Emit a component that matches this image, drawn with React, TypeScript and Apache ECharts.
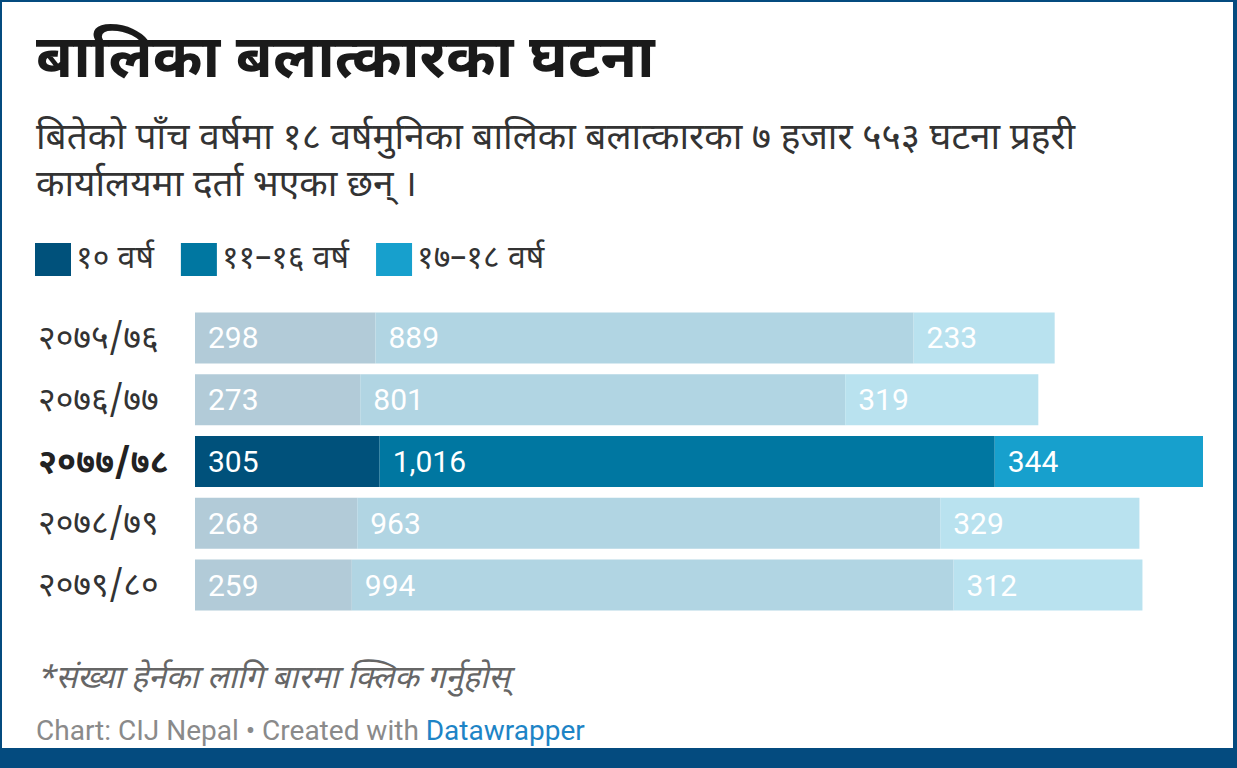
import React, { useEffect, useRef } from "react";
import * as echarts from "echarts";

const categories = ["२०७५/७६", "२०७६/७७", "२०७७/७८", "२०७८/७९", "२०७९/८०"];
const seriesNames = ["१० वर्ष", "११–१६ वर्ष", "१७–१८ वर्ष"];
const age10 = [298, 273, 305, 268, 259];
const age11to16 = [889, 801, 1016, 963, 994];
const age17to18 = [233, 319, 344, 329, 312];
const highlightIndex = 2;

const fullColors = ["#00517b", "#0077a1", "#17a0cd"];
const fadedColors = ["#b2cbd8", "#b1d5e3", "#b9e2ef"];

const DEV = "'Noto Sans Devanagari', 'Noto Sans', 'Lohit Devanagari', sans-serif";
const FRAME = "#044b7f";

export default function App() {
  const ref = useRef<HTMLDivElement>(null);
  useEffect(() => {
    document.body.style.margin = "0";
    const chart = echarts.init(ref.current!, null, { renderer: "svg" });
    const values = [age10, age11to16, age17to18];
    const fmt = (n: number) => n.toLocaleString("en-US");
    const series = values.map((arr, si) => ({
      name: seriesNames[si],
      type: "bar",
      stack: "total",
      barWidth: 51,
      itemStyle: { color: fullColors[si] },
      emphasis: { disabled: true },
      data: arr.map((v, i) => ({
        value: v,
        itemStyle: { color: i === highlightIndex ? fullColors[si] : fadedColors[si] },
      })),
      label: {
        show: true,
        position: "insideLeft",
        distance: 13,
        color: "#ffffff",
        fontFamily: "Roboto",
        fontSize: 30,
        formatter: (p: any) => fmt(p.value),
      },
    }));
    chart.setOption({
      animation: false,
      backgroundColor: "#ffffff",
      grid: { left: 195, right: 34, top: 307, height: 309, containLabel: false },
      xAxis: {
        type: "value",
        min: 0,
        max: 1665,
        show: false,
      },
      yAxis: {
        type: "category",
        inverse: true,
        data: categories,
        axisLine: { show: false },
        axisTick: { show: false },
        axisLabel: {
          align: "left",
          margin: 157,
          formatter: (v: string, i: number) => (i === highlightIndex ? `{b|${v}}` : `{n|${v}}`),
          rich: {
            n: { fontFamily: DEV, fontSize: 34, color: "#333333", padding: [6, 0, 0, 0] },
            b: { fontFamily: DEV, fontSize: 34, color: "#222222", fontWeight: "bold", padding: [6, 0, 0, 0] },
          },
        },
      },
      legend: {
        left: 35,
        top: 243,
        padding: 0,
        icon: "rect",
        itemWidth: 36,
        itemHeight: 33,
        itemGap: 27,
        selectedMode: false,
        textStyle: { fontFamily: DEV, fontSize: 32, color: "#333333" },
        data: seriesNames,
      },
      graphic: [
        {
          type: "text",
          left: 36,
          top: 32,
          style: { text: "बालिका बलात्कारका घटना", fontFamily: DEV, fontSize: 60, fontWeight: "bold", fill: "#1a1a1a" },
        },
        {
          type: "text",
          left: 36,
          top: 116,
          style: {
            text: "बितेको पाँच वर्षमा १८ वर्षमुनिका बालिका बलात्कारका ७ हजार ५५३ घटना प्रहरी\nकार्यालयमा दर्ता भएका छन् ।",
            fontFamily: DEV,
            fontSize: 37,
            lineHeight: 47,
            fill: "#333333",
          },
        },
        {
          type: "text",
          left: 36,
          top: 664,
          style: {
            text: "*संख्या हेर्नका लागि बारमा क्लिक गर्नुहोस्",
            fontFamily: DEV,
            fontSize: 32,
            fontStyle: "italic",
            fill: "#666666",
          },
        },
        {
          type: "text",
          left: 36,
          top: 716,
          style: {
            text: "{a|Chart: CIJ Nepal • Created with }{b|Datawrapper}",
            rich: {
              a: { fontFamily: "Roboto", fontSize: 28, fill: "#8a8a8a", color: "#8a8a8a" },
              b: { fontFamily: "Roboto", fontSize: 28, fill: "#1d84c6", color: "#1d84c6" },
            },
          },
        },
        { type: "rect", shape: { x: 0, y: 0, width: 1237, height: 2 }, style: { fill: FRAME } },
        { type: "rect", shape: { x: 0, y: 0, width: 2, height: 768 }, style: { fill: FRAME } },
        { type: "rect", shape: { x: 1233, y: 0, width: 4, height: 768 }, style: { fill: FRAME } },
        { type: "rect", shape: { x: 0, y: 748, width: 1237, height: 20 }, style: { fill: FRAME } },
      ],
      series,
    });
    return () => chart.dispose();
  }, []);
  return <div ref={ref} style={{ width: 1237, height: 768 }} />;
}
